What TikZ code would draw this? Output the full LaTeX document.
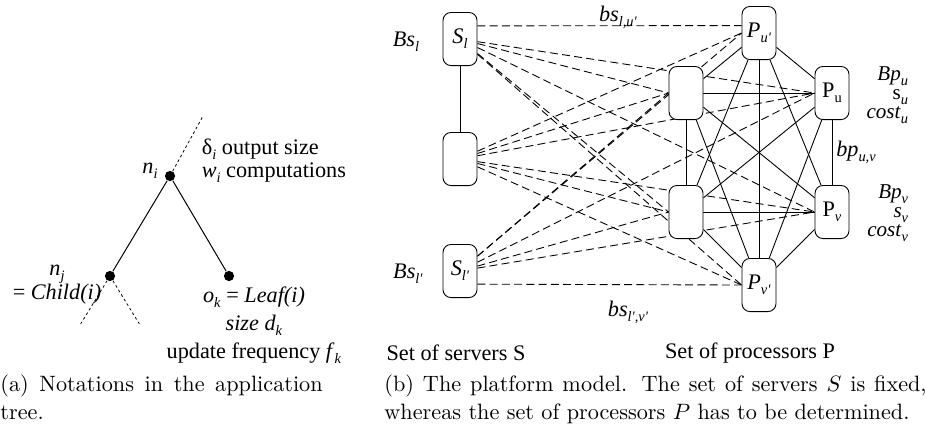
\documentclass[tikz,border=0pt]{standalone}
\usepackage{fontspec}
\newfontfamily\figfont{Liberation Serif}
\usetikzlibrary{backgrounds}
\newcommand\sbs[1]{\raisebox{-0.5ex}{\fontsize{6.5}{7}\selectfont #1}}
\newcommand\lbl[2]{\textit{#1}\sbs{\textit{#2}}}
\begin{document}
\begin{tikzpicture}[x=0.45pt,y=-0.45pt,
  every node/.style={font=\figfont\fontsize{10}{10}\selectfont},
  dot/.style={circle,fill,inner sep=0pt,minimum size=4.6pt},
  box/.style={draw,fill=white,rounded corners=3.6pt,minimum width=15.3pt,
    minimum height=23.9pt,inner sep=0pt},
  link/.style={dash pattern=on 3.6pt off 1.9pt},
  tail/.style={dash pattern=on 1.2pt off 1.2pt,line width=0.35pt},
  captext/.style={anchor=north west,inner sep=0pt,align=justify,
    font=\normalfont\fontsize{10}{12.6}\selectfont}]
  \useasboundingbox (0,0) rectangle (926,430);
  % application tree
  \node[dot] (ni) at (170,176) {};
  \node[dot] (nj) at (110,276) {};
  \node[dot] (ok) at (229,276) {};
  \coordinate (up) at (203,116);
  \coordinate (jl) at (80,325);
  \coordinate (jr) at (140,325);
  \draw[line width=0.45pt] (ni) -- (nj);
  \draw[line width=0.45pt] (ni) -- (ok);
  \draw[tail] (ni) -- (up);
  \draw[tail] (nj) -- (jl);
  \draw[tail] (nj) -- (jr);
  \node (lni) at (150,171) {\lbl{n}{i}};
  \node[anchor=west,align=left,font=\figfont\fontsize{10}{10.4}\selectfont]
    (lnf) at (194,161) {δ\sbs{\textit{i}} output size\\ \lbl{w}{i} computations};
  \node[align=center,font=\figfont\fontsize{10}{10.8}\selectfont]
    (lnj) at (57,285) {\lbl{n}{j}\\ = \textit{Child(i)}};
  \node[align=center,font=\figfont\fontsize{10}{12.6}\selectfont]
    (lok) at (254,325) {\lbl{o}{k} = \textit{Leaf(i)}\\ \textit{size} \lbl{d}{k}\\
    update frequency \lbl{f}{k}};
  % platform
  \node[box] (sl) at (460,39) {\lbl{S}{l}};
  \node[box] (sm) at (460,159) {};
  \node[box] (sk) at (460,271) {\lbl{S}{l'}};
  \node[box] (pw) at (759,33) {\lbl{P}{u'}};
  \node[box] (pa) at (686,93) {};
  \node[box] (pu) at (832,93) {P\sbs{u}};
  \node[box] (pb) at (686,212) {};
  \node[box] (pv) at (832,212) {P\sbs{\textit{v}}};
  \node[box] (px) at (759,285) {\lbl{P}{v'}};
  \begin{scope}[on background layer]
    \draw (sl) -- (sm);
    \foreach \a/\b in {pw/pa,pw/pu,pw/pb,pw/pv,pw/px,pa/pu,pa/pb,pa/pv,pa/px,
      pu/pb,pu/pv,pu/px,pb/pv,pb/px,pv/px}
      \draw (\a) -- (\b);
    \foreach \s in {sl,sm,sk}
      \foreach \p in {pa,pu,pb,pv}
        \draw[link] (\s) -- (\p.west);
    \draw[link] (sl.37) -- (pw.157);
    \draw[link] (sl) -- (px.west);
    \draw[link] (sm) -- (pw.west);
    \draw[link] (sm) -- (px.west);
    \draw[link] (sk) -- (pw.west);
    \draw[link] (sk.-37) -- (px.west);
  \end{scope}
  \node (bsl) at (406,42) {\lbl{Bs}{l}};
  \node (bsk) at (408,274) {\lbl{Bs}{l'}};
  \node (bslu) at (618,17) {\lbl{bs}{l,u'}};
  \node (bskv) at (628,312) {\lbl{bs}{l',v'}};
  \node (bpuv) at (856,152) {\lbl{bp}{u,v}};
  \node[anchor=east,align=right,font=\figfont\fontsize{9.5}{8.6}\selectfont]
    (lpu) at (916,95) {\lbl{Bp}{u}\\ s\sbs{\textit{u}}\\ \lbl{cost}{u}};
  \node[anchor=east,align=right,font=\figfont\fontsize{9.5}{8.6}\selectfont]
    (lpv) at (916,213) {\lbl{Bp}{v}\\ \lbl{s}{v}\\ \lbl{cost}{v}};
  \node (sets) at (456,353) {Set of servers S};
  \node (setp) at (750,353) {Set of processors P};
  % captions
  \node[captext,text width=145pt] (capa) at (0,374)
    {\hyphenpenalty=10000 (a) Notations in the application tree.};
  \node[captext,text width=244pt] (capb) at (384,374)
    {\hyphenpenalty=10000 (b) The platform model. The set of servers $S$ is fixed,
    whereas the set of processors $P$ has to be determined.};
\end{tikzpicture}
\end{document}
